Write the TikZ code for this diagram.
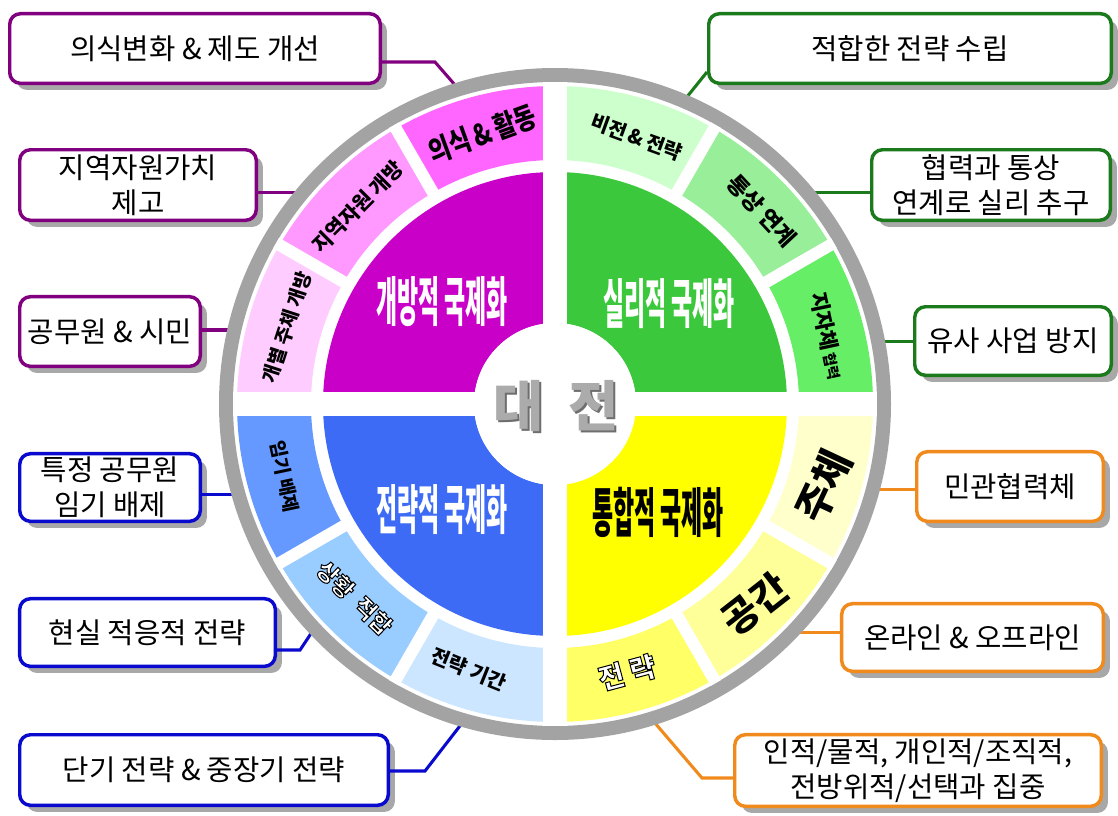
\documentclass[tikz,border=0pt]{standalone}
\usepackage{fontspec}
\usepackage{graphicx}
\setmainfont{Noto Sans CJK KR}
\usetikzlibrary{calc,shadows}
\definecolor{pborder}{HTML}{800080}
\definecolor{gborder}{HTML}{1B7A1B}
\definecolor{bborder}{HTML}{0A0ACF}
\definecolor{oborder}{HTML}{F08A1C}
\definecolor{ringgray}{HTML}{A3A3A3}
\definecolor{shadowgray}{HTML}{A8A8A8}
\definecolor{qmag}{HTML}{C800C8}
\definecolor{qgreen}{HTML}{3CC83C}
\definecolor{qblue}{HTML}{3D6BF5}
\definecolor{qyellow}{HTML}{FFFF00}
\definecolor{mA}{HTML}{FF66FF}
\definecolor{mB}{HTML}{FF99FF}
\definecolor{mC}{HTML}{FFCCFF}
\definecolor{gA}{HTML}{CCFFCC}
\definecolor{gB}{HTML}{99EE99}
\definecolor{gC}{HTML}{66EE66}
\definecolor{bA}{HTML}{6699FF}
\definecolor{bB}{HTML}{99CCFF}
\definecolor{bC}{HTML}{CCE6FF}
\definecolor{yA}{HTML}{FFFFCC}
\definecolor{yB}{HTML}{FFFF99}
\definecolor{yC}{HTML}{FFFF66}
\definecolor{ctrgray}{HTML}{ABABAB}
\definecolor{ctrshadow}{HTML}{6E6E6E}
\newcommand\ringwedge[3]{\fill[#1] (#2:244) arc[start angle=#2, end angle=#3, radius=244] -- (#3:318) arc[start angle=#3, end angle=#2, radius=318] -- cycle;}
\newcommand\quadwedge[3]{\fill[#1] (#2:81) -- (#2:232) arc[start angle=#2, end angle=#3, radius=232] -- (#3:81) arc[start angle=#3, end angle=#2, radius=81] -- cycle;}
\newcommand\hollowtext[1]{\special{pdf:literal direct 2 Tr 0.75 w 0 0 0 RG}#1\special{pdf:literal direct 0 Tr 0.4 w}}
\begin{document}
\begin{tikzpicture}[x=0.75pt,y=-0.75pt,
  box/.style={draw=#1, line width=2.6pt, rounded corners=8pt, fill=white, inner sep=0pt, align=center,
     font=\fontsize{21.5}{26}\selectfont,
     drop shadow={shadow xshift=5pt, shadow yshift=-5pt, fill=shadowgray, opacity=1}},
  conn/.style={draw=#1, line width=2.3pt},
  qlab/.style={font=\fontsize{40}{44}\selectfont\bfseries, inner sep=0pt},
  seg/.style={inner sep=0pt, text=black}]
\useasboundingbox (0,0) rectangle (1118,815);

% boxes
\node[box=pborder, minimum width=277.9pt, minimum height=52.2pt] (P1) at (195,48.5) {의식변화 \& 제도 개선};
\node[box=pborder, minimum width=177.4pt, minimum height=52.9pt] (P2) at (138,185) {지역자원가치\\제고};
\node[box=pborder, minimum width=135.4pt, minimum height=52.2pt] (P3) at (110,331.5) {공무원 \& 시민};
\node[box=gborder, minimum width=301.9pt, minimum height=52.2pt] (G1) at (910,48.5) {적합한 전략 수립};
\node[box=gborder, minimum width=178.9pt, minimum height=52.9pt] (G2) at (991,185) {협력과 통상\\연계로 실리 추구};
\node[box=gborder, minimum width=147.4pt, minimum height=51.4pt] (G3) at (1013,341) {유사 사업 방지};
\node[box=bborder, minimum width=135.4pt, minimum height=50.7pt] (B1) at (110,487.5) {특정 공무원\\임기 배제};
\node[box=bborder, minimum width=191.7pt, minimum height=50.7pt] (B2) at (147.5,632.5) {현실 적응적 전략};
\node[box=bborder, minimum width=276.4pt, minimum height=52.9pt] (B3) at (204,770) {단기 전략 \& 중장기 전략};
\node[box=oborder, minimum width=139.9pt, minimum height=52.2pt] (O1) at (1010,486.5) {민관협력체};
\node[box=oborder, minimum width=196.2pt, minimum height=50.7pt] (O2) at (972.5,637.5) {온라인 \& 오프라인};
\node[box=oborder, minimum width=274.9pt, minimum height=53.7pt] (O3) at (918,770.5) {인적/물적, 개인적/조직적,\\전방위적/선택과 집중};

% reference circle for connector ends
\node[circle, inner sep=0pt, outer sep=0pt, minimum size=493.5pt] (wheel) at (555,404) {};

% connectors
\draw[conn=pborder] ($(P1.east)+(0,13.5)$) -- ++(53,0) -- (wheel.107);
\draw[conn=pborder] (wheel.140) -- (wheel.140 -| P2.east);
\draw[conn=pborder] (wheel.167) -- (wheel.167 -| P3.east);
\draw[conn=gborder] (wheel.67) -- ($(G1.west)+(0,23.5)$);
\draw[conn=gborder] (wheel.40) -- (wheel.40 -| G2.west);
\draw[conn=gborder] (wheel.11) -- (wheel.11 -| G3.west);
\draw[conn=bborder] (wheel.196) -- (wheel.196 -| B1.east);
\draw[conn=bborder] ($(B2.east)+(0,17.5)$) -- ++(23,0) -- (wheel.223);
\draw[conn=bborder] ($(B3.east)+(0,1)$) -- ++(35,0) -- (wheel.254);
\draw[conn=oborder] (wheel.345) -- (wheel.345 -| O1.west);
\draw[conn=oborder] (wheel.316) -- (wheel.316 -| O2.west);
\draw[conn=oborder] ($(O3.west)+(0,7.5)$) -- ++(-31,0) -- (wheel.287);

% wheel
\begin{scope}[shift={(555,404)}, yscale=-1]
  \draw[ringgray, line width=10.5pt] (0,0) circle[radius=329];
  \ringwedge{mA}{90}{120}
  \ringwedge{mB}{120}{150}
  \ringwedge{mC}{150}{180}
  \ringwedge{gA}{60}{90}
  \ringwedge{gB}{30}{60}
  \ringwedge{gC}{0}{30}
  \ringwedge{bA}{180}{210}
  \ringwedge{bB}{210}{240}
  \ringwedge{bC}{240}{270}
  \ringwedge{yA}{-30}{0}
  \ringwedge{yB}{-60}{-30}
  \ringwedge{yC}{-90}{-60}
  \quadwedge{qmag}{90}{180}
  \quadwedge{qgreen}{0}{90}
  \quadwedge{qblue}{180}{270}
  \quadwedge{qyellow}{270}{360}
  \draw[white, line width=18pt] (-322,0) -- (322,0) (0,-322) -- (0,322);
  \foreach \a in {30,60,120,150,210,240,300,330}
    \draw[white, line width=9pt] (\a:236) -- (\a:322);
  \fill[white] (0,0) circle[radius=81];

  % ring labels
  \node[seg, rotate=20, font=\fontsize{22}{23}\selectfont\bfseries] (t1) at (105:280) {\scalebox{0.8}[1]{의식\,\&\,활동}};
  \node[seg, rotate=45, font=\fontsize{15.5}{16}\selectfont\bfseries] (t2) at (135:279) {지역자원 개방};
  \node[seg, rotate=72, font=\fontsize{14.5}{15}\selectfont\bfseries] (t3) at (164:279) {개별 주체 개방};
  \node[seg, rotate=-20, font=\fontsize{15}{16}\selectfont\bfseries] (t4) at (73:279) {비전\,\&\,전략};
  \node[seg, rotate=-47, font=\fontsize{17}{18}\selectfont\bfseries] (t5) at (43:283) {통상 연계};
  \node[seg, rotate=-78] (t6) at (14:281) {{\fontsize{16}{17}\selectfont\bfseries 지자체} {\fontsize{11}{12}\selectfont\bfseries 협력}};
  \node[seg, rotate=-78, font=\fontsize{14}{15}\selectfont\bfseries] (t7) at (195:280) {임기 배제};
  \node[seg, rotate=-44, text=white, font=\fontsize{17}{18}\selectfont\bfseries] (t8) at (224:279) {\hollowtext{상황~~적합}};
  \node[seg, rotate=-22, font=\fontsize{15}{16}\selectfont\bfseries] (t9) at (252:279) {전략 기간};
  \node[seg, rotate=65, font=\fontsize{30}{32}\selectfont\bfseries] (t10) at (-17:281) {주체};
  \node[seg, rotate=38, font=\fontsize{29}{31}\selectfont\bfseries] (t11) at (-45:283) {공간};
  \node[seg, rotate=15, text=white, font=\fontsize{21}{23}\selectfont\bfseries] (t12) at (-75:278) {\hollowtext{전~략}};
\end{scope}

% quadrant labels
\node[qlab, text=white] (q1) at (442,302) {\scalebox{0.43}[1]{개방적 국제화}};
\node[qlab, text=white] (q2) at (669,304) {\scalebox{0.43}[1]{실리적 국제화}};
\node[qlab, text=white] (q3) at (442,510) {\scalebox{0.43}[1]{전략적 국제화}};
\node[qlab, text=black] (q4) at (658,512) {\scalebox{0.43}[1]{통합적 국제화}};

% centre
\node[font=\fontsize{41}{44}\selectfont\bfseries, text=ctrshadow, inner sep=0pt] (cs) at (558,408) {대\hspace{0.45em}전};
\node[font=\fontsize{41}{44}\selectfont\bfseries, text=ctrgray, inner sep=0pt] (ct) at (556,406) {대\hspace{0.45em}전};
\end{tikzpicture}
\end{document}
